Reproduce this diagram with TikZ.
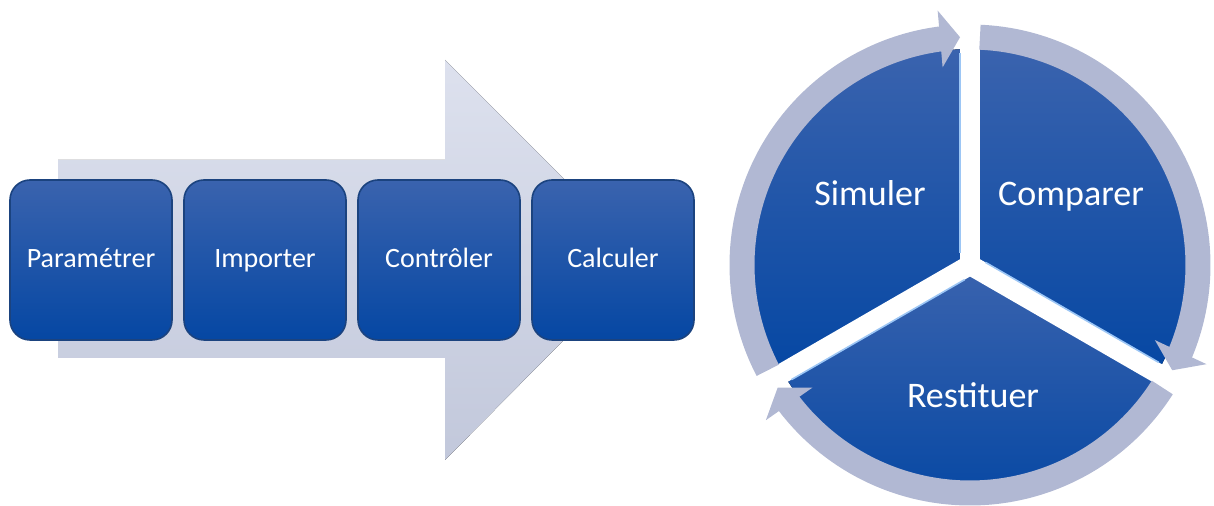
\documentclass[tikz,border=0pt]{standalone}
\usepackage{fontspec}
\setmainfont{Carlito}
\usetikzlibrary{arrows.meta,bending,calc}
\definecolor{boxtop}{HTML}{3A63AE}
\definecolor{boxbot}{HTML}{0547A3}
\definecolor{boxrim}{HTML}{1B437F}
\definecolor{shaftlight}{HTML}{DDE1EE}
\definecolor{shaftdark}{HTML}{C2C8DB}
\definecolor{ringgrey}{HTML}{B1B8D3}
\definecolor{edgelight}{HTML}{9CC6F5}
\tikzset{
  etape/.style={rectangle, rounded corners=15pt, minimum width=121.5pt,
    minimum height=120pt, draw=boxrim, line width=1.2pt,
    top color=boxtop, bottom color=boxbot, text=white,
    text height=15pt, text depth=4pt,
    font=\fontsize{21}{25}\selectfont},
  secteur/.style={top color=boxtop, bottom color=boxbot},
  label/.style={text=white, text height=19pt, text depth=6pt,
    font=\fontsize{27}{32}\selectfont},
  fleche/.style={top color=shaftlight, bottom color=shaftdark},
  gap/.style={white, line width=15pt},
  ring/.style={ringgrey, line width=18.75pt,
    -{Triangle[length=15pt,width=42pt]}}
}
\newcommand{\ringarc}[2]{
  \draw [ring] ([shift={(#1:228)}]C) arc [start angle=#1, end angle=#2, radius=228]
}

\begin{document}
\begin{tikzpicture}[x=0.75pt,y=0.75pt]
\useasboundingbox (0,0) rectangle (1214,506);

% big arrow behind the steps
\fill[fleche] (58,148) -- (445,148) -- (445,46) -- (644,247)
  -- (445,446) -- (445,346) -- (58,346) -- cycle;

% steps
\node[etape] (B1) at ( 91,246) {Paramétrer};
\node[etape] (B2) at (265,246) {Importer};
\node[etape] (B3) at (439,246) {Contrôler};
\node[etape] (B4) at (613,246) {Calculer};

% cycle centre
\coordinate (C) at (970,241);

% sectors
\fill[secteur] (C) -- ([shift={(90:216)}]C)
  arc [start angle=90, end angle=210, radius=216] -- cycle;
\fill[secteur] (C) -- ([shift={(-30:216)}]C)
  arc [start angle=-30, end angle=90, radius=216] -- cycle;
\fill[secteur] (C) -- ([shift={(210:216)}]C)
  arc [start angle=210, end angle=330, radius=216] -- cycle;

% gaps between sectors
\foreach \a in {90,210,330}
  \draw[gap] (C) -- ([shift={(\a:224)}]C);

% light edges
\foreach \a in {90,210,330}
  \draw[edgelight, line width=1.2pt]
    ($(C)+(\a+90:10)+(\a:12)$) -- ($(C)+(\a+90:10)+(\a:212)$);

% sector labels
\node[label] (S1) at ( 870,309) {Simuler};
\node[label] (S2) at (1071,309) {Comparer};
\node[label] (S3) at ( 973,107) {Restituer};

% ring arrows
\ringarc {207.5} {92.5};
\ringarc {87.5} {-27.5};
\ringarc {-32.5} {-147.5};

\end{tikzpicture}
\end{document}
